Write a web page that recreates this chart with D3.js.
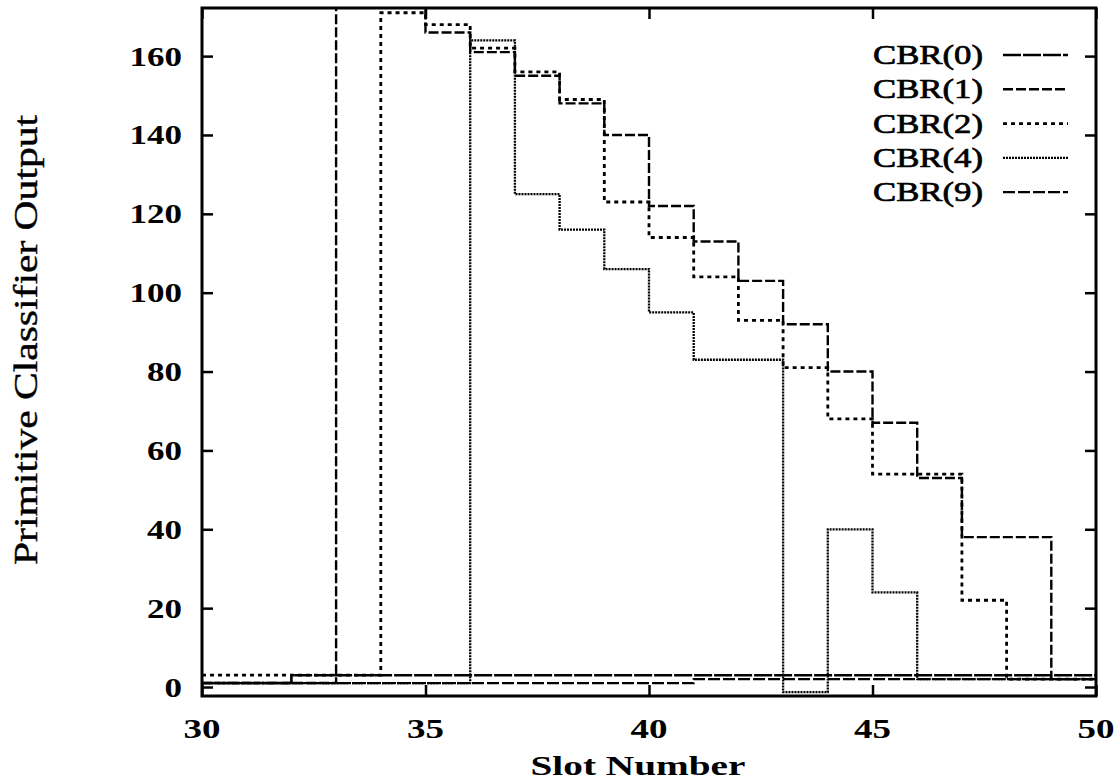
<!DOCTYPE html>
<html lang="en">
    <head>
        <meta charset="utf-8">
        <title>Primitive Classifier Output</title>
        <script type="text/javascript" src="https://cdn.jsdelivr.net/npm/d3@7"></script>
        <style type="text/css">
            body { margin: 0; background: #fff; }
            text { font-family: "Liberation Serif", "DejaVu Serif", serif; fill: #000; }
        </style>
    </head>
    <body>
        <script type="text/javascript">
            var w = 1118;
            var h = 783;

            //Data: slot boundaries and the value held from each slot to the next
            var slots = [30,31,32,33,34,35,36,37,38,39,40,41,42,43,44,45,46,47,48,49,50];
            var cbr0 = [1,1,3,3,3,3,3,3,3,3,3,3,3,3,3,3,3,3,3,3,3];
            var cbr1 = [1,1,1,185,185,166,161,155,148,140,122,113,103,92,80,67,53,38,38,2,2];
            var cbr2 = [3,3,3,3,171,168,162,156,149,123,114,104,93,81,68,54,54,22,2,2,2];
            var cbr4 = [1,1,1,1,1,1,164,125,116,106,95,83,83,-1.3,40,24,2,2,2,2,2];
            var cbr9 = [1,1,1,1,1,1,1,1,1,1,1,2,2,2,2,2,2,2,2,2,2];

            var seriesNames = ["CBR(0)", "CBR(1)", "CBR(2)", "CBR(4)", "CBR(9)"];
            var seriesValues = [cbr0, cbr1, cbr2, cbr4, cbr9];
            var dashes = ["18,2", "10,3", "4,4", "2,1", "12,3"];
            var widths = [2.6, 2.4, 2.8, 2.3, 2.2];

            var xTicks = [30, 35, 40, 45, 50];
            var yTicks = [0, 20, 40, 60, 80, 100, 120, 140, 160];

            var plotL = 202, plotR = 1096, plotT = 8, plotB = 696;

            var xScale = d3.scaleLinear()
                .domain([30, 50])
                .range([plotL, plotR]);

            var yScale = d3.scaleLinear()
                .domain([-2.28, 172.2])
                .range([plotB, plotT]);

            var svg = d3.select("body")
                .append("svg")
                .attr("width", w)
                .attr("height", h);

            svg.append("clipPath")
                .attr("id", "plot")
                .append("rect")
                .attr("x", plotL)
                .attr("y", plotT)
                .attr("width", plotR - plotL)
                .attr("height", plotB - plotT);

            var line = d3.line()
                .curve(d3.curveStepAfter)
                .x(function(d) { return xScale(d[0]); })
                .y(function(d) { return yScale(d[1]); });

            //draw series (CBR(4) first so the heavier lines sit on top)
            var order = [3, 4, 0, 2, 1];
            order.forEach(function(k) {
                var pts = slots.map(function(s, i) { return [s, seriesValues[k][i]]; });
                svg.append("path")
                    .attr("clip-path", "url(#plot)")
                    .attr("d", line(pts))
                    .attr("fill", "none")
                    .attr("stroke", "#000")
                    .attr("stroke-width", widths[k])
                    .attr("stroke-dasharray", dashes[k]);
            });

            //axes: gnuplot style with inward ticks on all four sides
            var tl = 11;
            svg.append("g")
                .attr("transform", "translate(0," + plotB + ")")
                .call(d3.axisBottom(xScale).tickValues(xTicks).tickSize(-tl).tickFormat(""));
            svg.append("g")
                .attr("transform", "translate(0," + plotT + ")")
                .call(d3.axisTop(xScale).tickValues(xTicks).tickSize(-tl).tickFormat(""));
            svg.append("g")
                .attr("transform", "translate(" + plotL + ",0)")
                .call(d3.axisLeft(yScale).tickValues(yTicks).tickSize(-tl).tickFormat(""));
            svg.append("g")
                .attr("transform", "translate(" + plotR + ",0)")
                .call(d3.axisRight(yScale).tickValues(yTicks).tickSize(-tl).tickFormat(""));
            svg.selectAll(".domain").remove();
            svg.selectAll(".tick line").attr("stroke", "#000").attr("stroke-width", 2.5);

            svg.append("rect")
                .attr("x", plotL)
                .attr("y", plotT)
                .attr("width", plotR - plotL)
                .attr("height", plotB - plotT)
                .attr("fill", "none")
                .attr("stroke", "#000")
                .attr("stroke-width", 3);

            //tick labels
            svg.selectAll(".xlab")
                .data(xTicks)
                .enter()
                .append("text")
                .attr("x", function(d) { return xScale(d); })
                .attr("y", 738)
                .attr("text-anchor", "middle")
                .attr("font-size", 28)
                .attr("font-weight", "bold")
                .attr("textLength", 37)
                .attr("lengthAdjust", "spacingAndGlyphs")
                .text(function(d) { return d; });

            svg.selectAll(".ylab")
                .data(yTicks)
                .enter()
                .append("text")
                .attr("x", 182)
                .attr("y", function(d) { return yScale(d) + 9.5; })
                .attr("text-anchor", "end")
                .attr("font-size", 28)
                .attr("font-weight", "bold")
                .attr("textLength", function(d) { return String(d).length * 17.5; })
                .attr("lengthAdjust", "spacingAndGlyphs")
                .text(function(d) { return d; });

            //axis titles
            svg.append("text")
                .attr("x", 638)
                .attr("y", 775)
                .attr("text-anchor", "middle")
                .attr("font-size", 28)
                .attr("font-weight", "bold")
                .attr("textLength", 215)
                .attr("lengthAdjust", "spacingAndGlyphs")
                .text("Slot Number");

            svg.append("text")
                .attr("transform", "translate(37,340) rotate(-90)")
                .attr("text-anchor", "middle")
                .attr("font-size", 34)
                .attr("stroke", "#000")
                .attr("stroke-width", 0.4)
                .attr("textLength", 450)
                .attr("lengthAdjust", "spacingAndGlyphs")
                .text("Primitive Classifier Output");

            //legend
            var legend = svg.selectAll(".legend")
                .data(seriesNames)
                .enter()
                .append("g")
                .attr("transform", function(d, i) { return "translate(0," + (55 + i * 34.3) + ")"; });

            legend.append("text")
                .attr("x", 873)
                .attr("y", 9)
                .attr("font-size", 28)
                .attr("stroke", "#000")
                .attr("stroke-width", 0.7)
                .attr("textLength", 110)
                .attr("lengthAdjust", "spacingAndGlyphs")
                .text(function(d) { return d; });

            legend.append("line")
                .attr("x1", 1003)
                .attr("x2", 1068)
                .attr("y1", 0)
                .attr("y2", 0)
                .attr("stroke", "#000")
                .attr("stroke-width", function(d, i) { return widths[i]; })
                .attr("stroke-dasharray", function(d, i) { return dashes[i]; });
        </script>
    </body>
</html>
